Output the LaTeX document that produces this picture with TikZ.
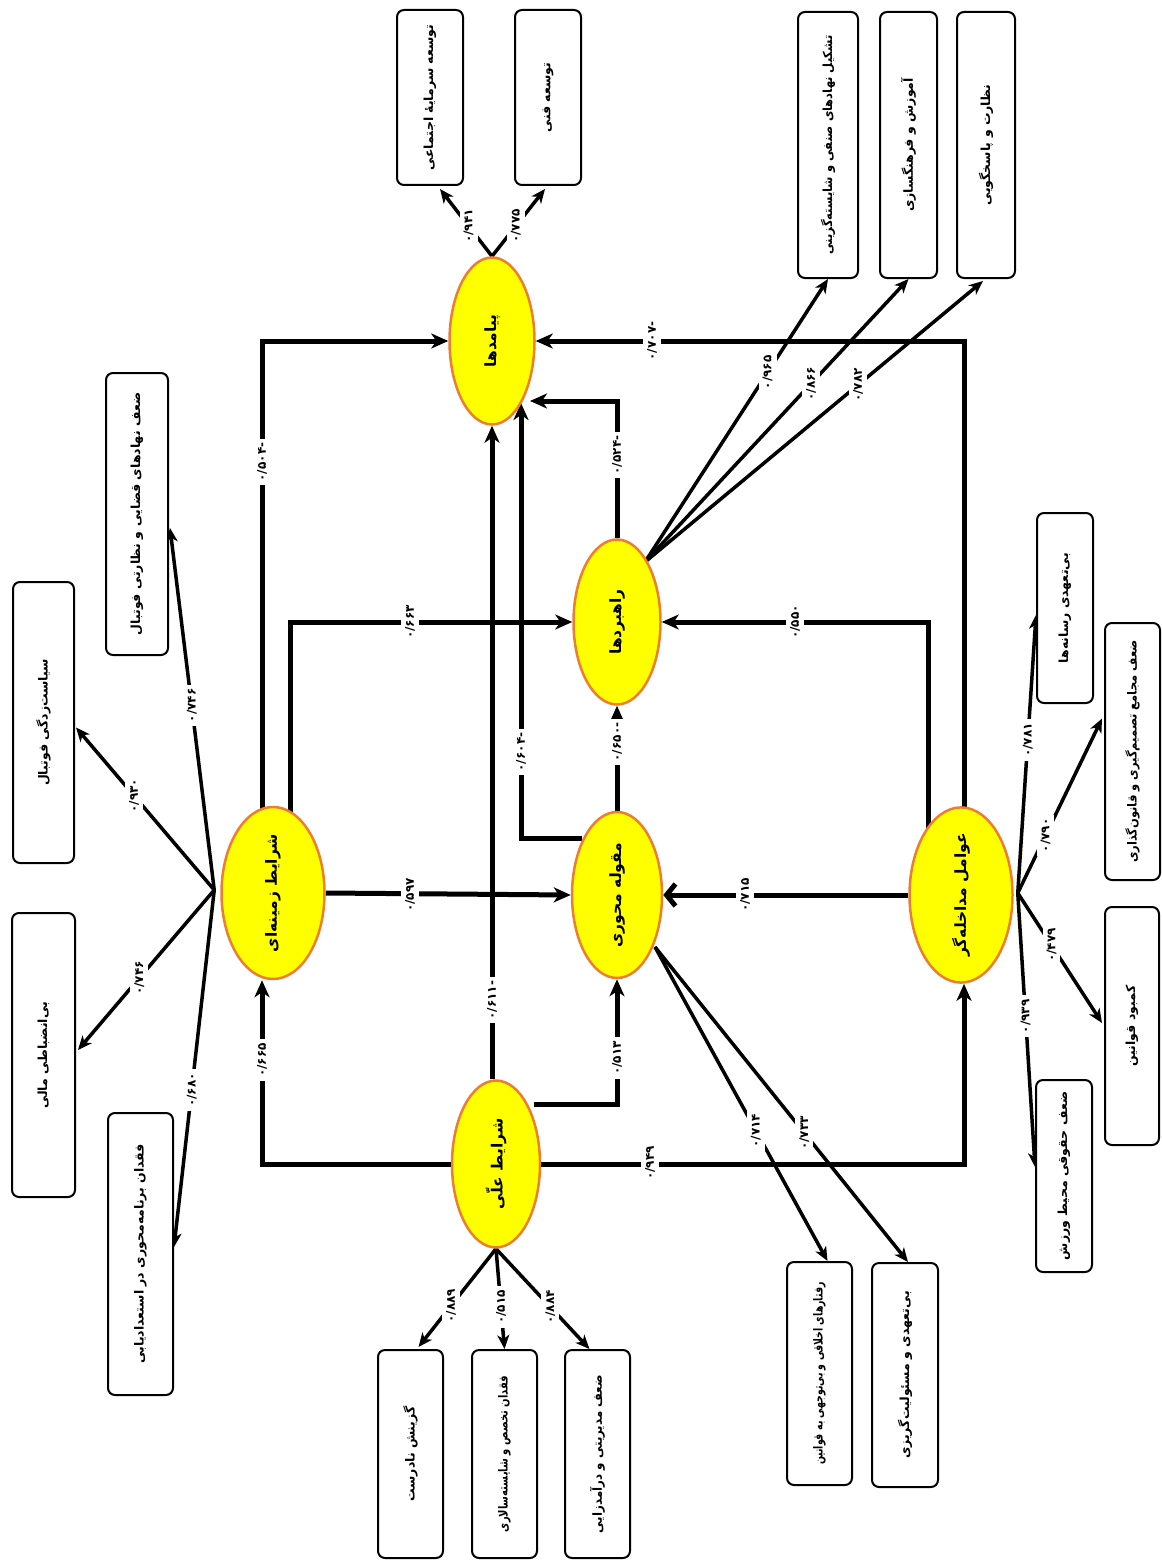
\documentclass[tikz,border=0pt]{standalone}
\usepackage{fontspec}
\TeXXeTstate=1
\newfontfamily\fa[Script=Arabic]{DejaVu Sans}
\usetikzlibrary{shapes.geometric,arrows.meta,calc,backgrounds}
\definecolor{eor}{HTML}{ED7D31}
\definecolor{eyel}{HTML}{FFFF00}
\newcommand\fat[1]{\rotatebox{90}{\fa #1}}
\newcommand\fatc[2]{\rotatebox{90}{\scalebox{#1}[1]{\fa #2}}}
\newcommand\fan[1]{\rotatebox{90}{\fa #1}}
\begin{document}
\begin{tikzpicture}[x=1pt,y=-1pt,
  ell/.style={ellipse, draw=eor, fill=eyel, line width=2.5pt, inner sep=0pt, font=\fontsize{15.5}{18}\selectfont\bfseries},
  rbox/.style={rectangle, rounded corners=7pt, draw=black, line width=2pt, fill=white, inner sep=0pt, font=\fontsize{12.5}{14}\selectfont\bfseries},
  lab/.style={fill=white, inner sep=4pt, font=\fontsize{12}{13}\selectfont\bfseries},
  mainarr/.style={line width=5pt, -{Stealth[length=17pt,width=15pt,inset=5pt]}},
  openarr/.style={line width=5pt, -{Straight Barb[length=9pt,width=22pt]}},
  boxarr/.style={line width=3.5pt, -{Stealth[length=14pt,width=12pt,inset=4pt]}}
]
\useasboundingbox (0,0) rectangle (1161,1562);

% ---- ellipses
\node[ell, minimum width=85pt, minimum height=167pt] (out) at (492,341) {\fat{\beginR پیامدها\endR}};
\node[ell, minimum width=87pt, minimum height=165pt] (str) at (617,622) {\fat{\beginR راهبردها\endR}};
\node[ell, minimum width=90pt, minimum height=166pt] (core) at (617,895) {\fat{\beginR مقوله محوری\endR}};
\node[ell, minimum width=103pt, minimum height=166pt] (intv) at (961,895) {\fat{\beginR عوامل مداخله‌گر\endR}};
\node[ell, minimum width=103pt, minimum height=172pt] (ctx) at (273,893) {\fat{\beginR شرایط زمینه‌ای\endR}};
\node[ell, minimum width=88pt, minimum height=167pt] (caus) at (496,1164) {\fat{\beginR شرایط علّی\endR}};

% ---- boxes
\node[rbox, minimum width=66pt, minimum height=175pt] (b1) at (430,97.5) {\fat{\beginR توسعه سرمایهٔ اجتماعی\endR}};
\node[rbox, minimum width=66pt, minimum height=175pt] (b2) at (548,97.5) {\fat{\beginR توسعه فنی\endR}};
\node[rbox, minimum width=60pt, minimum height=266pt] (b3) at (828,145) {\fatc{0.92}{\beginR تشکیل نهادهای صنفی و شایسته‌گزینی\endR}};
\node[rbox, minimum width=57pt, minimum height=266pt] (b4) at (908.5,145) {\fat{\beginR آموزش و فرهنگسازی\endR}};
\node[rbox, minimum width=58pt, minimum height=266pt] (b5) at (986,145) {\fat{\beginR نظارت و پاسخگویی\endR}};
\node[rbox, minimum width=61pt, minimum height=281pt] (b6) at (43.5,722.5) {\fat{\beginR سیاست‌زدگی فوتبال\endR}};
\node[rbox, minimum width=62pt, minimum height=282pt] (b7) at (137,514) {\fat{\beginR ضعف نهادهای قضایی و نظارتی فوتبال\endR}};
\node[rbox, minimum width=63pt, minimum height=284pt] (b8) at (43.5,1055) {\fat{\beginR بی‌انضباطی مالی\endR}};
\node[rbox, minimum width=65pt, minimum height=282pt] (b9) at (140.5,1254) {\fat{\beginR فقدان برنامه‌محوری در استعدادیابی\endR}};
\node[rbox, minimum width=65pt, minimum height=208pt] (b10) at (410.5,1454) {\fat{\beginR گزینش نادرست\endR}};
\node[rbox, minimum width=65pt, minimum height=208pt] (b11) at (504.5,1454) {\fatc{0.8}{\beginR فقدان تخصص و شایسته‌سالاری\endR}};
\node[rbox, minimum width=65pt, minimum height=208pt] (b12) at (597.5,1454) {\fatc{0.95}{\beginR ضعف مدیریتی و درآمدزایی\endR}};
\node[rbox, minimum width=65pt, minimum height=223pt] (b13) at (819.5,1373.5) {\fatc{0.75}{\beginR رفتارهای اخلاقی و بی‌توجهی به قوانین\endR}};
\node[rbox, minimum width=66pt, minimum height=224pt] (b14) at (905,1375) {\fat{\beginR بی‌تعهدی و مسئولیت‌گریزی\endR}};
\node[rbox, minimum width=56pt, minimum height=190pt] (b15) at (1065,608) {\fat{\beginR بی‌تعهدی رسانه‌ها\endR}};
\node[rbox, minimum width=55pt, minimum height=257pt] (b16) at (1132.5,751.5) {\fatc{0.92}{\beginR ضعف مجامع تصمیم‌گیری و قانون‌گذاری\endR}};
\node[rbox, minimum width=54pt, minimum height=238pt] (b17) at (1132,1026) {\fat{\beginR کمبود قوانین\endR}};
\node[rbox, minimum width=56pt, minimum height=192pt] (b18) at (1064,1176) {\fat{\beginR ضعف حقوقی محیط ورزش\endR}};

% fan origins
\coordinate (ctxf) at ($(ctx.west)+(-6,-3)$);
\coordinate (strf) at ($(str)+(28,-60)$);
\coordinate (coref) at ($(core)+(38,52)$);
\coordinate (intvf) at ($(intv.east)+(4,-2)$);

\begin{scope}[on background layer]
% ---- main structure
\draw[mainarr] ($(ctx)+(-11,0)$) |- (out.west);
\draw[mainarr] ($(ctx)+(17,0)$) |- (str.west);
\draw[mainarr] (ctx.east) -- (core.west);
\draw[mainarr] ($(core)+(-35,-57)$) -| ($(out)+(29,62)$);
\draw[mainarr] (str.north) |- ($(out)+(38,60)$);
\draw[mainarr] (caus.north -| out.south) -- (out.south);
\draw[mainarr] ($(intv)+(3,0)$) |- (out.east);
\draw[mainarr] ($(intv)+(-33,-40)$) |- (str.east);
\draw[openarr] (intv.west) -- (core.east);
\draw[mainarr] (core.north) -- (str.south);
\draw[mainarr] ($(caus)+(38,-60)$) -| (core.south);
\draw[mainarr] (caus.west) -| ($(ctx.south)+(-11,0)$);
\draw[mainarr] (caus.east) -| ($(intv.south)+(3,0)$);

% ---- box arrows
\draw[boxarr] (out.north) -- node[lab,pos=0.45] (lb1) {\fan{۰/۹۴۱}} ($(b1.south)+(10,3)$);
\draw[boxarr] (out.north) -- node[lab,pos=0.45] (lb2) {\fan{۰/۷۷۵}} ($(b2.south)+(-3,3)$);
\draw[boxarr] (strf) -- node[lab,pos=0.67] (lb3) {\fan{۰/۹۶۵}} (b3.south);
\draw[boxarr] (strf) -- node[lab,pos=0.63] (lb4) {\fan{۰/۸۶۶}} (b4.south);
\draw[boxarr] (strf) -- node[lab,pos=0.63] (lb5) {\fan{۰/۷۸۲}} ($(b5.south)+(-3,2)$);
\draw[boxarr] (ctxf) -- node[lab,pos=0.58] (lb6) {\fan{۰/۹۳۰}} ($(b6.east)+(1,5)$);
\draw[boxarr] (ctxf) -- node[lab,pos=0.51] (lb7) {\fan{۰/۷۴۶}} ($(b7.east)+(1,14)$);
\draw[boxarr] (ctxf) -- node[lab,pos=0.55] (lb8) {\fan{۰/۷۴۶}} ($(b8.east)+(2,-5)$);
\draw[boxarr] (ctxf) -- node[lab,pos=0.56] (lb9) {\fan{۰/۶۸۰}} ($(b9.east)+(0,-7)$);
\draw[boxarr] (caus.south) -- node[lab,pos=0.58] (lb10) {\fan{۰/۸۸۹}} ($(b10.north)+(8,-2)$);
\draw[boxarr] (caus.south) -- node[lab,pos=0.58] (lb11) {\fan{۰/۵۱۵}} (b11.north);
\draw[boxarr] (caus.south) -- node[lab,pos=0.58] (lb12) {\fan{۰/۸۸۴}} ($(b12.north)+(-8,0)$);
\draw[boxarr] (coref) -- node[lab,pos=0.585] (lb13) {\fan{۰/۷۱۴}} ($(b13.north)+(8,0)$);
\draw[boxarr] (coref) -- node[lab,pos=0.59] (lb14) {\fan{۰/۷۳۳}} ($(b14.north)+(3,0)$);
\draw[boxarr] (intvf) -- node[lab,pos=0.55] (lb15) {\fan{۰/۷۸۱}} ($(b15.west)+(0,7)$);
\draw[boxarr] (intvf) -- node[lab,pos=0.33] (lb16) {\fan{۰/۷۹۰}} ($(b16.west)+(-2,-33)$);
\draw[boxarr] (intvf) -- node[lab,pos=0.40] (lb17) {\fan{۰/۴۷۹}} ($(b17.west)+(-2,-3)$);
\draw[boxarr] (intvf) -- node[lab,pos=0.45] (lb18) {\fan{۰/۹۳۹}} ($(b18.west)+(0,-9)$);
\end{scope}

% ---- labels on main structure
\node[lab] (l1) at (262,462) {\fan{-۰/۵۰۴}};
\node[lab] (l2) at (410,622) {\fan{۰/۶۶۳}};
\node[lab] (l3) at (410,895) {\fan{۰/۵۹۷}};
\node[lab] (l4) at (521,752) {\fan{-۰/۶۰۴}};
\node[lab] (l5) at (617,455) {\fan{-۰/۵۲۴}};
\node[lab] (l6) at (492,1000) {\fan{-۰/۶۱۱}};
\node[lab] (l7) at (652,341) {\fan{-۰/۷۰۷}};
\node[lab] (l8) at (795,622) {\fan{۰/۵۵۰}};
\node[lab] (l9) at (745,895) {\fan{۰/۷۱۵}};
\node[lab] (l10) at (617,742) {\fan{-۰/۶۵۰}};
\node[lab] (l11) at (617,1058) {\fan{۰/۵۱۳}};
\node[lab] (l12) at (262,1060) {\fan{۰/۶۶۵}};
\node[lab] (l13) at (650,1163) {\fan{۰/۹۴۹}};
\end{tikzpicture}
\end{document}
